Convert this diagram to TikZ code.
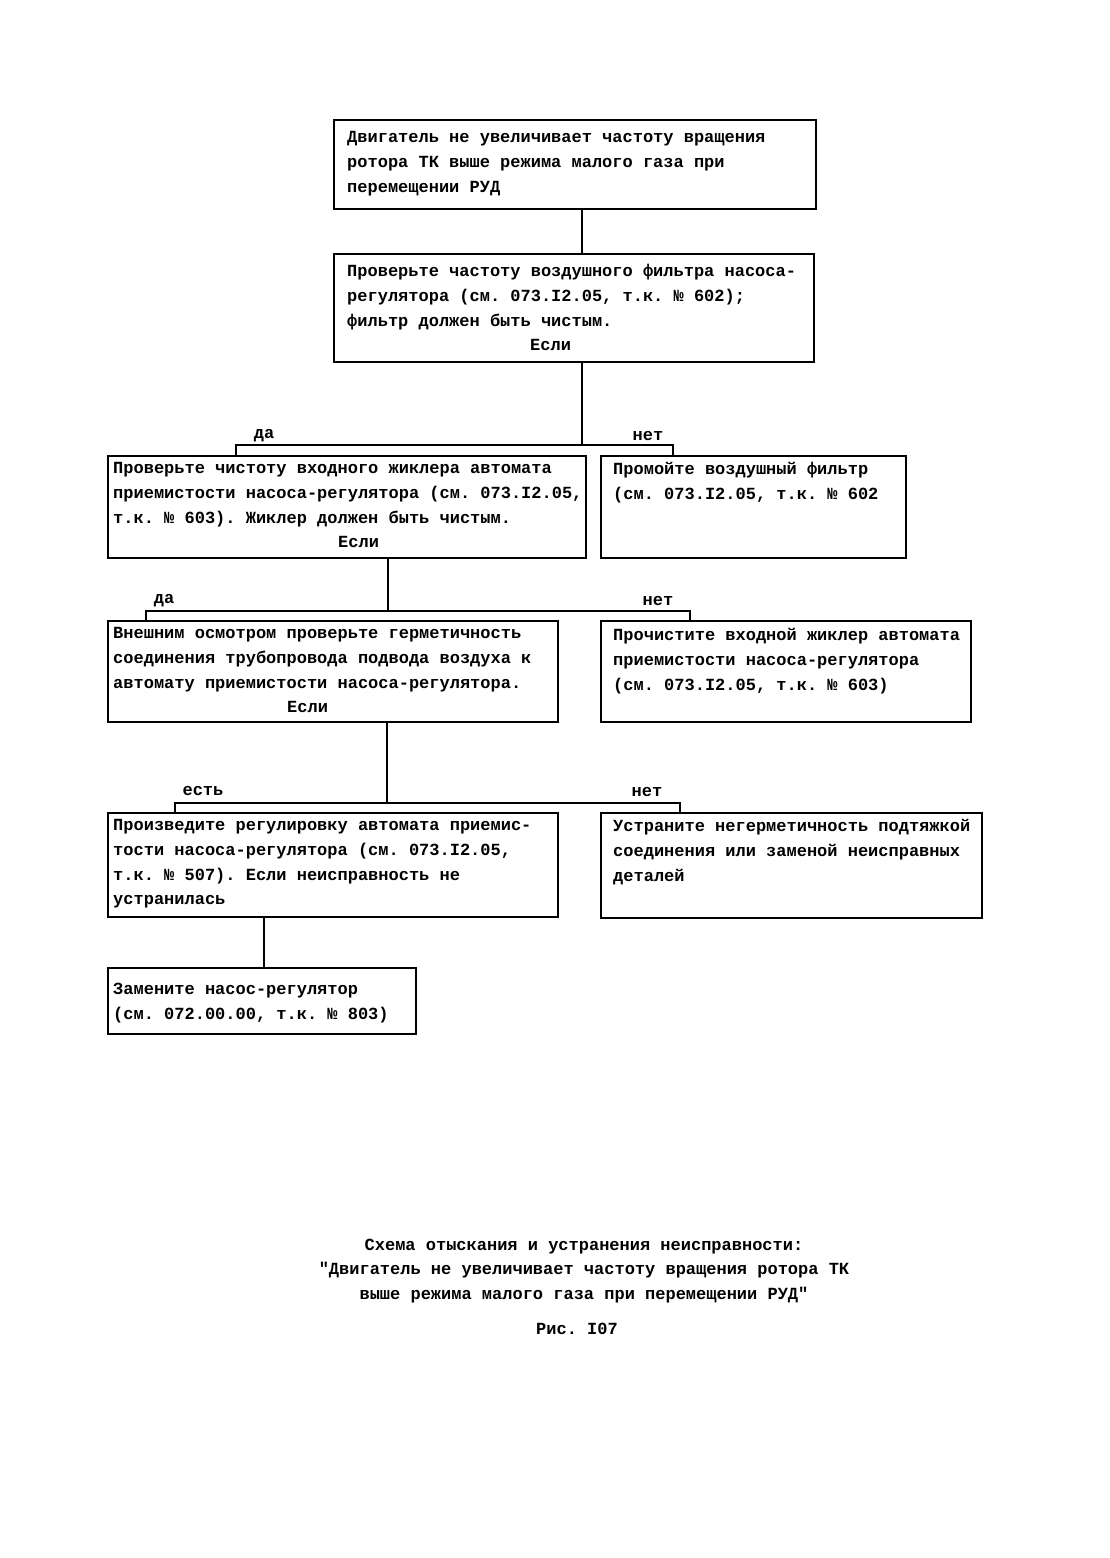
\documentclass[tikz,border=0pt]{standalone}
\usepackage{fontspec}
\setmainfont{Liberation Mono}[Ligatures=TeXOff]
\frenchspacing
\begin{document}
\begin{tikzpicture}[x=1pt,y=-1pt,
  box/.style={draw, line width=2.4pt, rectangle, inner sep=0pt, anchor=north west},
  txt/.style={anchor=north west, inner sep=0pt, align=left, font=\fontsize{17}{24.8}\selectfont\bfseries},
  lbl/.style={inner sep=0pt, font=\fontsize{17}{24.8}\selectfont\bfseries},
  conn/.style={line width=2.1pt}]
\useasboundingbox[fill=white] (0,0) rectangle (1110,1558);
% boxes
\node[box, minimum width=482pt, minimum height=89pt]  (b1) at (333,119) {};
\node[box, minimum width=480pt, minimum height=108pt] (b2) at (333,253) {};
\node[box, minimum width=478pt, minimum height=102pt] (b3) at (107,455) {};
\node[box, minimum width=305pt, minimum height=102pt] (b4) at (600,455) {};
\node[box, minimum width=450pt, minimum height=101pt] (b5) at (107,620) {};
\node[box, minimum width=370pt, minimum height=101pt] (b6) at (600,620) {};
\node[box, minimum width=450pt, minimum height=104pt] (b7) at (107,812) {};
\node[box, minimum width=381pt, minimum height=105pt] (b8) at (600,812) {};
\node[box, minimum width=308pt, minimum height=66pt]  (b9) at (107,967) {};
% texts
\node[txt] (t1) at ([xshift=14pt,yshift=-12pt]b1.north west)
 {Двигатель не увеличивает частоту вращения\\ротора ТК выше режима малого газа при\\перемещении РУД};
\node[txt] (t2) at ([xshift=14pt,yshift=-11pt]b2.north west)
 {Проверьте частоту воздушного фильтра насоса-\\регулятора (см. 073.I2.05, т.к. № 602);\\фильтр должен быть чистым.\\\hspace*{183pt}Если};
\node[txt] (t3) at ([xshift=6pt,yshift=-7pt]b3.north west)
 {Проверьте чистоту входного жиклера автомата\\приемистости насоса-регулятора (см. 073.I2.05,\\т.к. № 603). Жиклер должен быть чистым.\\\hspace*{225pt}Если};
\node[txt] (t4) at ([xshift=13pt,yshift=-7pt]b4.north west)
 {Промойте воздушный фильтр\\(см. 073.I2.05, т.к. № 602};
\node[txt] (t5) at ([xshift=6pt,yshift=-7pt]b5.north west)
 {Внешним осмотром проверьте герметичность\\соединения трубопровода подвода воздуха к\\автомату приемистости насоса-регулятора.\\\hspace*{174pt}Если};
\node[txt] (t6) at ([xshift=13pt,yshift=-8pt]b6.north west)
 {Прочистите входной жиклер автомата\\приемистости насоса-регулятора\\(см. 073.I2.05, т.к. № 603)};
\node[txt] (t7) at ([xshift=6pt,yshift=-7pt]b7.north west)
 {Произведите регулировку автомата приемис-\\тости насоса-регулятора (см. 073.I2.05,\\т.к. № 507). Если неисправность не\\устранилась};
\node[txt] (t8) at ([xshift=13pt,yshift=-7pt]b8.north west)
 {Устраните негерметичность подтяжкой\\соединения или заменой неисправных\\деталей};
\node[txt] (t9) at ([xshift=6pt,yshift=-16pt]b9.north west)
 {Замените насос-регулятор\\(см. 072.00.00, т.к. № 803)};
% connectors
\coordinate (j1) at (582,445);
\coordinate (d1) at (236,445);
\coordinate (n1) at (673,445);
\draw[conn] (b1.south -| j1) -- (b2.north -| j1);
\draw[conn] (b2.south -| j1) -- (j1);
\draw[conn] (b3.north -| d1) -- (d1) -- (n1) -- (b4.north -| n1);
\coordinate (j2) at (388,611);
\coordinate (d2) at (146,611);
\coordinate (n2) at (690,611);
\draw[conn] (b3.south -| j2) -- (j2);
\draw[conn] (b5.north -| d2) -- (d2) -- (n2) -- (b6.north -| n2);
\coordinate (j3) at (387,803);
\coordinate (d3) at (175,803);
\coordinate (n3) at (680,803);
\draw[conn] (b5.south -| j3) -- (j3);
\draw[conn] (b7.north -| d3) -- (d3) -- (n3) -- (b8.north -| n3);
\coordinate (j4) at (264,940);
\draw[conn] (b7.south -| j4) -- (b9.north -| j4);
% branch labels
\node[lbl] (l1) at (264,436) {да};
\node[lbl] (l2) at (648,436) {нет};
\node[lbl] (l3) at (164,601) {да};
\node[lbl] (l4) at (658,601) {нет};
\node[lbl] (l5) at (203,791) {есть};
\node[lbl] (l6) at (647,792) {нет};
% caption
\node[lbl, align=center] (cap) at (584,1271)
 {Схема отыскания и устранения неисправности:\\"Двигатель не увеличивает частоту вращения ротора ТК\\выше режима малого газа при перемещении РУД"};
\node[lbl] (fig) at (577,1329) {Рис. I07};
\end{tikzpicture}
\end{document}
